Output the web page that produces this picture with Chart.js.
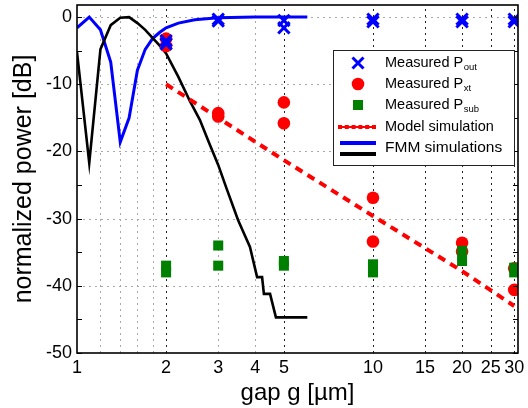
<!DOCTYPE html>
<html>
<head>
<meta charset="utf-8">
<script src="https://cdn.jsdelivr.net/npm/chart.js@4.4.1/dist/chart.umd.min.js"></script>
<style>
  html, body { margin: 0; padding: 0; background: #fff; }
  #wrap { width: 528px; height: 408px; }
</style>
</head>
<body>
<div id="wrap"><canvas id="c" width="528" height="408"></canvas></div>
<script>
const FONT = '"Liberation Sans", Arial, Helvetica, sans-serif';

// Measured gaps (µm), two samples per gap
const gapMeasured = [2, 2, 3, 3, 5, 5, 10, 10, 20, 20, 30, 30];
const pOut = [-3.5, -4.0, -0.3, -0.6, -0.5, -1.6, -0.3, -0.7, -0.3, -0.7, -0.3, -0.7];
const pXt  = [-3.2, -4.3, -14.3, -14.8, -12.7, -15.8, -26.9, -33.4, -33.6, -34.9, -37.4, -40.6];
const pSub = [-37.0, -38.0, -34.0, -37.0, -36.3, -37.0, -36.8, -38.0, -34.8, -36.3, -37.3, -38.0];

// Model simulation of crosstalk
const gapModel = [2, 3, 5, 10, 20, 30];
const pModel = [-10.0, -15.0, -21.3, -29.6, -37.8, -43.0];

// FMM simulations
const gapFmmBlue = [1.0, 1.1, 1.2, 1.3, 1.4, 1.5, 1.6, 1.7, 1.8, 1.9, 2.0, 2.2, 2.5, 3.0, 4.0, 6.0];
const pFmmBlue   = [-1.6, 0.0, -1.9, -6.7, -18.6, -15.0, -7.9, -4.8, -3.2, -2.3, -1.6, -0.9, -0.4, -0.1, 0.0, 0.0];
const gapFmmBlack = [1.0, 1.1, 1.2, 1.3, 1.4, 1.5, 1.6, 1.7, 1.8, 1.9, 2.0, 2.2, 2.4, 2.6, 2.8, 3.0, 3.2, 3.5, 3.84, 4.06, 4.22, 4.28, 4.49, 4.7, 6.0];
const pFmmBlack   = [-5.2, -21.7, -4.8, -1.2, -0.1, 0.0, -0.9, -1.9, -3.1, -4.2, -5.4, -8.9, -12.4, -15.3, -18.8, -22.0, -25.5, -30.2, -34.2, -38.7, -38.7, -41.2, -41.2, -44.7, -44.7];

// Axis ticks and grid
const xTickValues = [1, 2, 3, 4, 5, 10, 15, 20, 25, 30];
const xGridLight = [1.2, 1.4, 1.6, 1.8, 3, 4];
const xGridDark = [2, 5, 10, 15, 20, 25, 30];
const yTickValues = [-50, -40, -30, -20, -10, 0];
const yGridValues = [-40, -30, -20, -10, 0];
const yTickMarks = [-50, -45, -40, -35, -30, -25, -20, -15, -10, -5, 0];

// Legend rows
const legendRows = [
  { kind: 'cross',  main: 'Measured P', sub: 'out' },
  { kind: 'circle', main: 'Measured P', sub: 'xt' },
  { kind: 'square', main: 'Measured P', sub: 'sub' },
  { kind: 'dash',   main: 'Model simulation', sub: '' },
  { kind: 'pair',   main: 'FMM simulations', sub: '' }
];

const pts = (xs, ys) => xs.map((v, i) => ({ x: v, y: ys[i] }));

const BLUE = '#0000ff', RED = '#ff0000', GREEN = '#008000', BLACK = '#000000';

const framePlugin = {
  id: 'frame',
  beforeDatasetsDraw(chart) {
    const { ctx, chartArea: a, scales: { x, y } } = chart;
    ctx.save();
    ctx.lineWidth = 1;
    ctx.setLineDash([2, 4]);
    const seg = (x1, y1, x2, y2) => { ctx.beginPath(); ctx.moveTo(x1, y1); ctx.lineTo(x2, y2); ctx.stroke(); };
    ctx.strokeStyle = '#a8a8a8';
    yGridValues.forEach(v => { const py = Math.round(y.getPixelForValue(v)) + 0.5; seg(a.left, py, a.right, py); });
    xGridLight.forEach(v => { const px = Math.round(x.getPixelForValue(v)) + 0.5; seg(px, a.bottom, px, a.top); });
    ctx.strokeStyle = '#202020';
    xGridDark.forEach(v => { const px = Math.round(x.getPixelForValue(v)) + 0.5; seg(px, a.bottom, px, a.top); });
    ctx.restore();
  },
  afterDatasetsDraw(chart) {
    const { ctx, chartArea: a, scales: { y } } = chart;
    ctx.save();
    ctx.strokeStyle = BLACK;
    ctx.lineWidth = 1;
    yTickMarks.forEach(v => {
      const py = Math.round(y.getPixelForValue(v)) + 0.5;
      ctx.beginPath();
      ctx.moveTo(a.left, py); ctx.lineTo(a.left + 5, py);
      ctx.moveTo(a.right, py); ctx.lineTo(a.right - 5, py);
      ctx.stroke();
    });
    ctx.lineWidth = 1.6;
    ctx.strokeRect(a.left, a.top, a.right - a.left, a.bottom - a.top);
    ctx.restore();
  },
  afterDraw(chart) {
    const { ctx } = chart;
    const bx = 333, by = 50, bw = 181, bh = 115;
    ctx.save();
    ctx.fillStyle = '#fff';
    ctx.fillRect(bx, by, bw, bh);
    ctx.strokeStyle = '#222';
    ctx.lineWidth = 1;
    ctx.strokeRect(bx + 0.5, by + 0.5, bw, bh);
    const rowY = [63, 84, 105, 127, 148];
    const mx = 358, tx = 385;
    legendRows.forEach((r, i) => {
      const cy = rowY[i];
      ctx.setLineDash([]);
      if (r.kind === 'cross') {
        ctx.strokeStyle = BLUE; ctx.lineWidth = 3;
        ctx.beginPath();
        ctx.moveTo(mx - 5.5, cy - 5.5); ctx.lineTo(mx + 5.5, cy + 5.5);
        ctx.moveTo(mx + 5.5, cy - 5.5); ctx.lineTo(mx - 5.5, cy + 5.5);
        ctx.stroke();
      } else if (r.kind === 'circle') {
        ctx.fillStyle = RED;
        ctx.beginPath(); ctx.arc(mx, cy, 6.3, 0, Math.PI * 2); ctx.fill();
      } else if (r.kind === 'square') {
        ctx.fillStyle = GREEN;
        ctx.fillRect(mx - 5, cy - 5, 10, 10);
      } else if (r.kind === 'dash') {
        ctx.strokeStyle = RED; ctx.lineWidth = 2;
        ctx.beginPath(); ctx.moveTo(340, cy); ctx.lineTo(376, cy); ctx.stroke();
        ctx.fillStyle = RED;
        for (let k = 0; k < 6; k++) ctx.fillRect(340 + k * 6.8 - 2, cy - 2, 4, 4);
      } else if (r.kind === 'pair') {
        ctx.lineWidth = 4;
        ctx.strokeStyle = BLUE;
        ctx.beginPath(); ctx.moveTo(340, cy - 5); ctx.lineTo(376, cy - 5); ctx.stroke();
        ctx.strokeStyle = BLACK;
        ctx.beginPath(); ctx.moveTo(340, cy + 6); ctx.lineTo(376, cy + 6); ctx.stroke();
      }
      ctx.fillStyle = '#000';
      ctx.textBaseline = 'middle';
      ctx.textAlign = 'left';
      ctx.font = (r.kind === 'pair' ? '15.5px ' : '14.5px ') + FONT;
      ctx.fillText(r.main, tx, cy);
      if (r.sub) {
        const w = ctx.measureText(r.main).width;
        ctx.font = '9.5px ' + FONT;
        ctx.fillText(r.sub, tx + w + 0.5, cy + 4.5);
      }
    });
    ctx.restore();
  }
};

new Chart(document.getElementById('c'), {
  type: 'scatter',
  data: {
    datasets: [
      { label: 'Measured Pout', data: pts(gapMeasured, pOut), pointStyle: 'crossRot', radius: 8,
        borderColor: BLUE, backgroundColor: BLUE, borderWidth: 3, order: 0, clip: 0 },
      { label: 'Measured Psub', data: pts(gapMeasured, pSub), pointStyle: 'rect', radius: 7.1,
        borderWidth: 0, borderColor: GREEN, backgroundColor: GREEN, order: 1, clip: 0 },
      { label: 'Measured Pxt', data: pts(gapMeasured, pXt), pointStyle: 'circle', radius: 6.3,
        borderWidth: 0, borderColor: RED, backgroundColor: RED, order: 2, clip: 0 },
      { label: 'Model simulation', data: pts(gapModel, pModel), showLine: true, radius: 0,
        borderColor: RED, borderWidth: 4, borderDash: [8, 6], borderCapStyle: 'butt', order: 3, clip: 0 },
      { label: 'FMM simulations', data: pts(gapFmmBlack, pFmmBlack), showLine: true, radius: 0,
        borderColor: BLACK, borderWidth: 2.6, order: 4, clip: 0 },
      { label: 'FMM simulations', data: pts(gapFmmBlue, pFmmBlue), showLine: true, radius: 0,
        borderColor: BLUE, borderWidth: 3, order: 5, clip: 0 }
    ]
  },
  options: {
    responsive: false,
    animation: false,
    events: [],
    layout: { autoPadding: false, padding: { top: 5, right: 10, left: 0, bottom: 0 } },
    plugins: { legend: { display: false }, tooltip: { enabled: false } },
    scales: {
      x: {
        type: 'logarithmic', min: 1, max: 30.9,
        grid: { display: false, drawTicks: false },
        border: { display: false },
        afterBuildTicks: s => { s.ticks = xTickValues.map(v => ({ value: v })); },
        afterFit: s => { s.height = 55; s.paddingLeft = 0; s.paddingRight = 0; },
        ticks: { autoSkip: false, maxRotation: 0, padding: 4, color: '#000',
                 font: { family: FONT, size: 18 }, callback: v => String(v) },
        title: { display: true, text: 'gap g [µm]', color: '#000',
                 font: { family: FONT, size: 24, lineHeight: 1.2 }, padding: { top: 0, bottom: 0 } }
      },
      y: {
        type: 'linear', min: -50, max: 1.8,
        grid: { display: false, drawTicks: false },
        border: { display: false },
        afterBuildTicks: s => { s.ticks = yTickValues.map(v => ({ value: v })); },
        afterFit: s => { s.width = 77; s.paddingTop = 0; s.paddingBottom = 0; },
        ticks: { padding: 5, color: '#000', font: { family: FONT, size: 18 },
                 callback: v => String(v) },
        title: { display: true, text: 'normalized power [dB]', color: '#000',
                 font: { family: FONT, size: 25, lineHeight: 1.2 }, padding: { top: 9, bottom: 0 } }
      }
    }
  },
  plugins: [framePlugin]
});
</script>
</body>
</html>
